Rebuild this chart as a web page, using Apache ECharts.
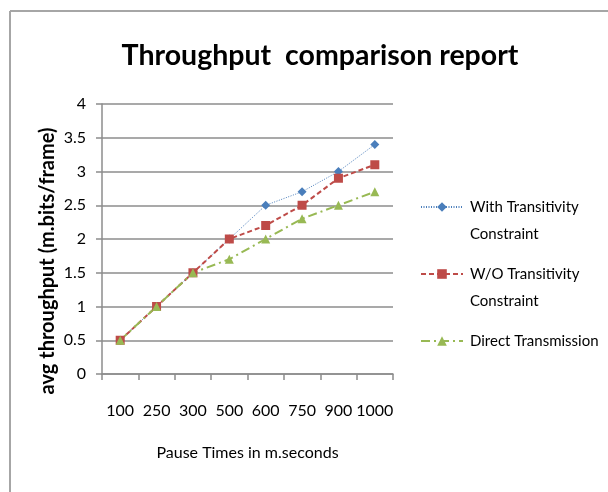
<!DOCTYPE html>
<html>
<head>
<meta charset="utf-8">
<script src="https://cdn.jsdelivr.net/npm/echarts@6/dist/echarts.min.js"></script>
<style>
html,body{margin:0;padding:0;background:#fff;}
#main{width:608px;height:492px;}
</style>
</head>
<body>
<div id="main"></div>
<script>
var categories = ['100','250','300','500','600','750','900','1000'];
var withTransitivity = [0.5, 1, 1.5, 2, 2.5, 2.7, 3, 3.4];
var withoutTransitivity = [0.5, 1, 1.5, 2, 2.2, 2.5, 2.9, 3.1];
var directTransmission = [0.5, 1, 1.5, 1.7, 2, 2.3, 2.5, 2.7];
var seriesNames = ['With Transitivity Constraint', 'W/O Transitivity Constraint', 'Direct Transmission'];
var legendLabels = ['\nWith Transitivity\nConstraint', '\nW/O Transitivity\nConstraint', 'Direct Transmission'];

var FONT = 'Lato, "Open Sans", sans-serif';
var chart = echarts.init(document.getElementById('main'));
var gray = '#8c8c8c';
function legendFor(i, top) {
  return {
    data: [seriesNames[i]],
    orient: 'vertical',
    left: 420,
    top: top,
    itemWidth: 42,
    itemHeight: 12,
    itemGap: 0,
    padding: 0,
    formatter: function () { return legendLabels[i]; },
    textStyle: { fontFamily: FONT, fontSize: 15, color: '#000', lineHeight: 27, padding: [0, 0, 0, 2] }
  };
}
chart.setOption({
  animation: false,
  backgroundColor: '#fff',
  title: {
    text: 'Throughput  comparison report',
    left: 315, top: 36, textAlign: 'center',
    textStyle: { fontFamily: FONT, fontSize: 28.5, fontWeight: 'bold', color: '#000' }
  },
  graphic: [
    { type: 'line', shape: { x1: 10, y1: 11, x2: 608, y2: 11 }, style: { stroke: '#a6a6a6', lineWidth: 2 } },
    { type: 'line', shape: { x1: 10, y1: 11, x2: 10, y2: 492 }, style: { stroke: '#a6a6a6', lineWidth: 2 } }
  ],
  legend: [legendFor(0, 166.5), legendFor(1, 233.5), legendFor(2, 327.5)],
  grid: { left: 102, right: 215, top: 104, bottom: 118 },
  xAxis: {
    type: 'category',
    data: categories,
    boundaryGap: true,
    name: 'Pause Times in m.seconds',
    nameLocation: 'middle',
    nameGap: 71,
    nameTextStyle: { fontFamily: FONT, fontSize: 16, color: '#000' },
    axisLine: { lineStyle: { color: gray, width: 1.5 } },
    axisTick: { show: true, length: 6, lineStyle: { color: gray, width: 1.5 } },
    axisLabel: { interval: 0, margin: 29, fontFamily: FONT, fontSize: 16, color: '#000' }
  },
  yAxis: {
    type: 'value',
    min: 0, max: 4, interval: 0.5,
    name: 'avg throughput (m.bits/frame)',
    nameLocation: 'middle',
    nameGap: 44,
    nameTextStyle: { fontFamily: FONT, fontSize: 20, fontWeight: 'bold', color: '#000', padding: [0, 44, 0, 0] },
    axisLine: { show: true, lineStyle: { color: gray, width: 1.5 } },
    axisTick: { show: true, length: 6, lineStyle: { color: gray, width: 1.5 } },
    axisLabel: { margin: 16, fontFamily: FONT, fontSize: 16, color: '#000' },
    splitLine: { lineStyle: { color: gray, width: 1.5 } }
  },
  series: [
    {
      name: seriesNames[0], type: 'line', data: withTransitivity,
      symbol: 'diamond', symbolSize: 9,
      itemStyle: { color: '#4a7ebb' },
      lineStyle: { color: '#4a7ebb', width: 1, type: [1, 1.5] }
    },
    {
      name: seriesNames[1], type: 'line', data: withoutTransitivity,
      symbol: 'rect', symbolSize: 9,
      itemStyle: { color: '#be4b48' },
      lineStyle: { color: '#be4b48', width: 2, type: [5, 3] }
    },
    {
      name: seriesNames[2], type: 'line', data: directTransmission,
      symbol: 'triangle', symbolSize: 9,
      itemStyle: { color: '#98b954' },
      lineStyle: { color: '#98b954', width: 2, type: [9, 4, 2, 4] }
    }
  ]
});
</script>
</body>
</html>
